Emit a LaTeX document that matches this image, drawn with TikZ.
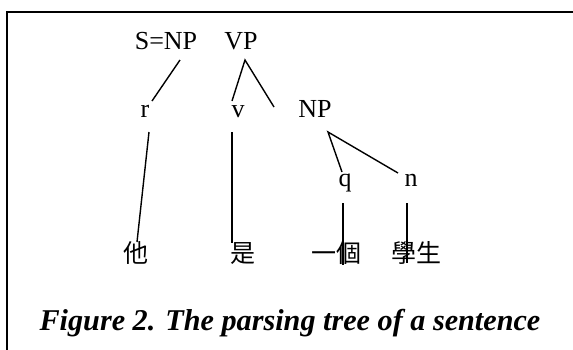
\documentclass[tikz,border=0pt]{standalone}
\usepackage{fontspec}
\setmainfont{Liberation Serif}
\newfontfamily\cjk{Noto Sans CJK TC}
\usetikzlibrary{calc}
\tikzset{
  lbl/.style={inner sep=0pt, anchor=base, font=\fontsize{26}{30}\selectfont},
  cjklbl/.style={inner sep=0pt, anchor=base, font=\cjk\fontsize{25}{30}\selectfont},
  edge/.style={line width=1.4pt, black},
  frameline/.style={line width=2pt, black}
}
\begin{document}
\begin{tikzpicture}[x=1pt, y=-1pt]
\useasboundingbox (0,0) rectangle (573,349);
% frame (left and top edges)
\draw[frameline] (7,360) -- (7,12) -- (580,12);
% labels
\node[lbl] (snp) at (166,49) {S=NP};
\node[lbl] (vp) at (241,49) {VP};
\node[lbl] (r) at (145,117) {r};
\node[lbl] (v) at (238,117) {v};
\node[lbl] (np) at (315,117) {NP};
\node[lbl] (q) at (345,186) {q};
\node[lbl] (n) at (411,186) {n};
\node[cjklbl] (ta) at (136,262) {他};
\node[cjklbl] (shi) at (243,262) {是};
\node[cjklbl] (yige) at (336,262) {一個};
\node[cjklbl] (xs) at (416,262) {學生};
\node[inner sep=0pt, anchor=base, font=\fontsize{30.2}{35}\selectfont\bfseries\itshape] (cap) at (290,330) {Figure 2. The parsing tree of a sentence};
% connectors
\draw[edge] ($(snp.base)+(14,11)$) -- ($(r.base)+(7,-16)$);
\draw[edge] ($(v.base)+(-6,-16)$) -- ($(vp.base)+(4,11)$) -- ($(np.base)+(-41,-10)$);
\draw[edge] ($(r.base)+(4,15)$) -- ($(ta.base)+(1,-20)$);
\draw[edge] ($(v.base)+(-6,15)$) -- ($(shi.base)+(-11,-19)$);
\draw[edge] ($(q.base)+(-3,-14)$) -- ($(np.base)+(13,15)$) -- ($(n.base)+(-13,-13)$);
\draw[edge] ($(q.base)+(-2,17)$) -- ($(yige.base)+(7,3)$);
\draw[edge] ($(n.base)+(-4,17)$) -- ($(xs.base)+(-9,1)$);
\end{tikzpicture}
\end{document}
